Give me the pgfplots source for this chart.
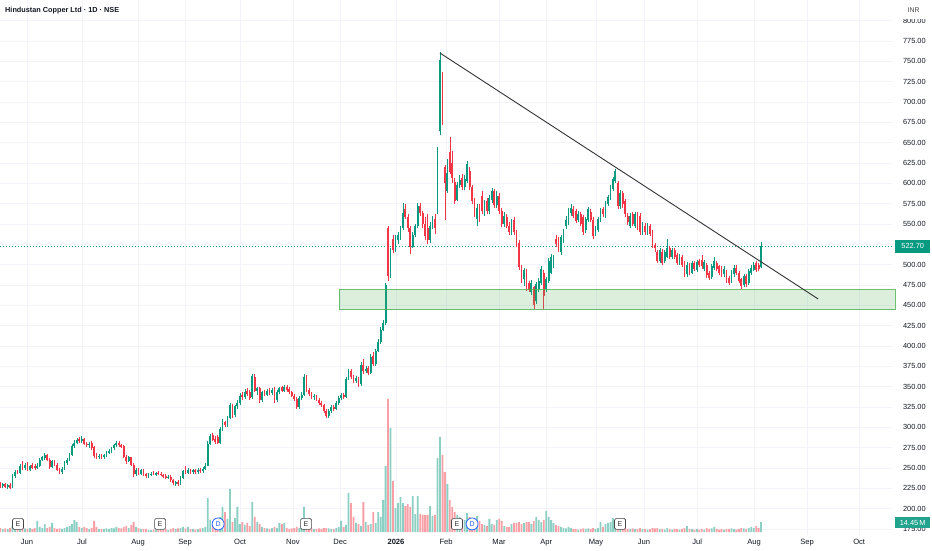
\documentclass[border=0pt]{standalone}
\usepackage{fontspec}
\setmainfont{Liberation Sans}
\usepackage{pgfplots}
\usepackage{pgfplotstable}
\pgfplotsset{compat=1.18}
\definecolor{upc}{RGB}{8,153,129}
\definecolor{dnc}{RGB}{242,54,69}
\definecolor{vup}{RGB}{140,208,196}
\definecolor{vdn}{RGB}{249,160,167}
\definecolor{gridc}{RGB}{242,244,250}
\definecolor{zonec}{RGB}{76,175,80}
\definecolor{txt}{RGB}{19,23,34}
\definecolor{dblue}{RGB}{41,98,255}
\tikzset{
  emark/.style={draw=black!72, fill=white, rounded corners=1.5pt, minimum size=11pt, inner sep=0pt, line width=0.6pt, font=\fontsize{7}{7}\selectfont, text=black!80},
  dmark/.style={circle, draw=dblue, fill=white, minimum size=12pt, inner sep=0pt, line width=0.8pt, font=\fontsize{7}{7}\selectfont, text=dblue},
}
\pgfplotstableread{
i o h l c v
0 230 233 226 228 5.8
1 228 231 225 230 4.4
2 230 232 226 227 5.1
3 227 230 224 229 4.4
4 229 231 224 226 5.8
5 226 242 225 240 8.7
6 240 247 238 245 7.3
7 245 248 242 244 4.4
8 244 255 243 252 8.7
9 254 258 248 250 5.8
10 250 256 248 254 5.1
11 254 257 246 248 4.4
12 248 254 246 252 5.8
13 254 256 249 250 4.4
14 253 255 248 250 5.8
15 250 256 249 253 16.0
16 252 262 251 260 7.3
17 260 265 258 263 5.8
18 262 268 260 266 11.6
19 266 267 258 260 5.8
20 260 262 249 251 7.3
21 251 260 250 258 13.1
22 258 260 252 254 5.8
23 254 256 246 248 4.4
24 248 250 243 245 5.1
25 245 251 243 249 4.4
26 249 258 248 256 5.8
27 256 262 254 260 7.3
28 260 268 258 266 8.7
29 266 279 265 277 11.6
30 277 284 275 281 17.4
31 281 287 279 285 14.5
32 286 288 281 283 7.3
33 283 289 281 286 5.8
34 286 287 278 280 7.3
35 280 282 276 278 5.8
36 278 282 275 280 4.4
37 281 283 272 275 5.8
38 276 277 262 265 16.0
39 265 268 261 264 7.3
40 264 267 261 265 4.4
41 265 267 261 263 4.4
42 263 267 261 266 4.4
43 266 271 264 269 5.1
44 269 273 267 271 4.4
45 271 276 269 274 5.8
46 274 280 272 278 5.1
47 278 283 276 281 7.3
48 281 283 276 278 5.8
49 278 280 274 276 5.1
50 277 278 262 264 7.3
51 264 266 255 258 8.7
52 258 265 257 263 5.8
53 263 264 252 254 10.2
54 254 256 239 242 14.5
55 242 250 240 248 7.3
56 248 250 241 243 5.8
57 243 249 241 247 4.4
58 247 249 240 242 4.4
59 242 244 238 240 4.4
60 240 244 238 242 2.9
61 242 245 240 243 2.9
62 243 246 241 242 3.6
63 242 245 240 244 2.9
64 244 246 241 243 2.9
65 243 245 240 241 3.6
66 241 243 238 240 2.9
67 240 242 236 238 4.4
68 238 241 236 239 2.9
69 239 241 233 235 4.4
70 235 237 229 231 5.8
71 231 234 228 233 4.4
72 233 235 228 230 5.1
73 230 240 229 238 5.8
74 238 248 236 246 7.3
75 248 252 242 244 5.1
76 244 250 242 247 7.3
77 247 249 243 245 4.4
78 245 249 243 247 4.4
79 247 249 243 245 3.6
80 245 250 243 248 4.4
81 248 250 244 246 5.1
82 246 251 244 249 5.8
83 249 256 247 253 7.3
84 253 283 252 280 49.3
85 280 292 278 289 17.4
86 290 293 283 285 10.2
87 286 289 280 282 8.7
88 288 290 279 281 13.1
89 281 300 280 298 21.8
90 298 310 296 306 36.3
91 306 308 300 303 29.0
92 303 314 301 312 18.9
93 312 330 310 327 62.4
94 327 329 312 315 14.5
95 315 328 313 326 20.3
96 326 333 323 330 36.3
97 330 342 328 339 11.6
98 340 343 334 337 14.5
99 337 347 335 344 10.2
100 345 348 338 341 13.1
101 343 346 334 336 8.7
102 337 366 335 363 43.5
103 362 365 343 345 21.8
104 345 350 340 348 14.5
105 348 350 330 333 11.6
106 333 345 331 343 7.3
107 343 346 338 340 5.8
108 340 347 338 345 5.1
109 345 348 340 342 4.4
110 342 348 340 346 5.8
111 347 349 330 333 7.3
112 333 346 331 344 5.8
113 344 350 341 348 13.1
114 349 351 343 345 11.6
115 345 352 343 350 13.1
116 350 352 344 346 5.8
117 347 349 341 343 4.4
118 343 345 337 339 5.1
119 339 341 332 335 5.8
120 335 337 322 325 7.3
121 325 338 323 336 5.8
122 336 343 334 340 10.2
123 340 366 338 362 36.3
124 362 364 343 346 11.6
125 346 348 339 341 5.8
126 341 343 335 337 5.1
127 337 341 334 339 4.4
128 339 340 332 334 4.4
129 334 336 328 330 5.1
130 330 332 325 327 4.4
131 327 329 318 320 5.8
132 320 322 311 314 5.8
133 314 322 312 320 5.1
134 320 327 318 325 4.4
135 325 327 320 322 4.4
136 322 332 321 330 5.8
137 330 338 328 336 7.3
138 336 342 334 340 16.0
139 340 342 335 337 7.3
140 337 362 336 360 10.2
141 360 372 358 369 56.6
142 369 372 360 362 42.0
143 362 364 354 357 21.8
144 357 363 355 361 13.1
145 361 362 350 353 11.6
146 353 380 351 377 8.7
147 377 384 366 369 43.5
148 369 376 367 372 14.5
149 373 375 364 367 10.2
150 367 390 365 387 11.6
151 388 392 375 378 29.0
152 378 396 376 394 13.1
153 394 408 392 405 29.0
154 405 423 403 420 21.8
155 420 432 418 428 46.4
156 428 478 426 475 95.7
157 545 548 480 486 192.9
158 486 520 484 515 150.8
159 532 536 514 518 74.0
160 518 536 516 533 34.8
161 530 540 526 536 42.0
162 534 548 530 545 50.8
163 545 576 543 563 42.0
164 568 575 556 559 37.7
165 559 562 540 545 40.6
166 545 548 513 522 36.3
167 522 540 520 537 52.2
168 537 550 534 547 26.1
169 547 576 545 572 52.2
170 572 576 560 563 26.1
171 563 566 545 550 24.7
172 550 558 530 535 24.7
173 545 562 526 530 24.7
174 530 552 527 548 37.7
175 548 560 544 556 23.2
176 556 562 538 545 24.7
177 565 645 562 643 107.3
178 664 762 660 752 137.8
179 725 737 672 686 111.7
180 620 622 555 600 87.0
181 590 630 588 613 69.6
182 638 657 612 614 46.4
183 625 640 600 606 36.3
184 602 606 575 578 29.0
185 580 602 578 598 24.7
186 598 610 594 604 21.8
187 606 612 592 596 18.9
188 596 610 592 605 17.4
189 603 628 600 624 27.6
190 615 620 592 595 21.8
191 595 598 575 578 17.4
192 578 582 558 562 14.5
193 556 575 548 570 23.2
194 570 574 552 556 16.0
195 585 590 562 566 11.6
196 563 580 560 576 10.2
197 578 582 562 566 8.7
198 566 586 562 582 18.9
199 580 594 576 590 11.6
200 590 593 570 573 10.2
201 573 590 570 585 17.4
202 585 588 562 566 18.9
203 566 570 546 550 16.0
204 550 565 546 560 8.7
205 558 562 545 548 7.3
206 548 552 536 540 7.3
207 540 556 537 551 11.6
208 555 558 536 540 13.1
209 540 542 522 526 13.1
210 527 530 494 497 14.5
211 497 500 478 482 11.6
212 482 496 474 493 13.1
213 493 495 468 471 14.5
214 477 480 466 469 14.5
215 466 481 463 478 11.6
216 472 474 445 450 16.0
217 455 479 452 476 21.8
218 470 483 466 480 17.4
219 478 498 475 495 14.5
220 490 494 446 462 17.4
221 470 485 466 482 30.5
222 480 508 478 505 21.8
223 490 513 488 510 17.4
224 500 512 496 508 13.1
225 532 536 522 525 10.2
226 530 534 516 520 8.7
227 516 537 512 534 7.3
228 530 544 527 540 5.8
229 548 560 544 555 5.1
230 552 570 549 568 7.3
231 563 574 560 570 5.8
232 568 572 557 560 4.4
233 566 569 551 554 4.4
234 555 566 552 562 3.6
235 562 565 547 550 4.4
236 558 561 537 540 5.1
237 542 559 539 556 4.4
238 555 571 552 568 5.1
239 565 568 552 555 4.4
240 555 558 532 535 5.8
241 538 548 535 545 4.4
242 543 559 540 556 5.8
243 556 570 553 568 14.5
244 568 571 559 562 7.3
245 560 578 557 575 11.6
246 575 586 572 583 13.1
247 583 598 580 595 14.5
248 593 608 590 605 20.3
249 603 618 600 615 17.4
250 600 603 568 572 11.6
251 572 592 569 588 10.2
252 588 591 570 574 5.8
253 578 581 558 562 5.8
254 560 563 549 552 4.4
255 548 563 545 560 4.4
256 562 565 547 550 5.1
257 548 565 545 562 4.4
258 562 565 543 546 4.4
259 560 563 537 540 5.8
260 540 553 537 550 4.4
261 548 551 537 540 4.4
262 540 551 537 548 3.6
263 548 550 535 538 4.4
264 540 542 521 524 5.8
265 524 527 516 520 5.1
266 515 518 502 505 5.8
267 505 521 502 518 4.4
268 516 519 499 502 4.4
269 505 518 502 515 3.6
270 510 531 508 520 5.8
271 520 523 507 510 4.4
272 510 521 507 518 3.6
273 518 520 507 510 4.4
274 512 514 499 502 4.4
275 503 513 500 510 3.6
276 510 512 497 500 4.4
277 502 504 485 488 5.8
278 488 503 485 500 8.7
279 500 502 487 490 4.4
280 490 505 488 502 4.4
281 502 505 492 495 3.6
282 494 506 491 503 4.4
283 505 507 497 500 3.6
284 506 512 495 498 4.4
285 495 506 492 503 3.6
286 500 502 484 487 5.8
287 490 492 481 484 4.4
288 485 501 482 498 5.1
289 496 510 494 505 7.3
290 502 505 492 495 4.4
291 498 500 487 490 3.6
292 496 498 485 488 4.4
293 488 498 485 495 3.6
294 490 493 477 480 4.4
295 484 486 475 478 4.4
296 480 493 477 490 5.1
297 488 499 485 496 4.4
298 496 499 487 490 3.6
299 490 492 477 480 4.4
300 482 484 470 474 5.8
301 475 489 472 486 5.1
302 486 488 473 476 4.4
303 478 495 475 492 5.8
304 490 499 487 496 7.3
305 494 503 492 500 5.8
306 502 504 491 494 8.7
307 500 502 492 495 5.8
308 497 528 496 522.7 14.45
}\prices
\begin{document}
\begin{tikzpicture}
\useasboundingbox (0,-15pt) rectangle (932pt,535pt);
% grid, ticks, labels
\begin{axis}[
  at={(0,0)}, anchor=south west, scale only axis,
  width=893pt, height=535pt,
  xmin=-0.1, xmax=361.4, ymin=167.6, ymax=825.4,
  axis line style={draw=none}, major tick length=0pt,
  xmajorgrids, ymajorgrids,
  major grid style={draw=gridc, line width=0.6pt},
  xtick={10.8,33.1,55.8,74.8,97.1,118.5,137.6,160.2,180.5,201.9,221,241.2,260.6,282.1,305.2,326.6,347.7},
  xticklabels={Jun,Jul,Aug,Sep,Oct,Nov,Dec,{\bfseries 2026},Feb,Mar,Apr,May,Jun,Jul,Aug,Sep,Oct},
  ytick={175,200,...,800},
  yticklabels={175.00,200.00,225.00,250.00,275.00,300.00,325.00,350.00,375.00,400.00,425.00,450.00,475.00,500.00,{},550.00,575.00,600.00,625.00,650.00,675.00,700.00,725.00,750.00,775.00,800.00},
  yticklabel pos=right,
  /pgf/number format/assume math mode=true,
  x tick label style={font=\fontsize{7.6}{9}\selectfont, text=txt, anchor=base, yshift=-9.5pt},
  y tick label style={font=\fontsize{7.4}{9}\selectfont, text=txt, anchor=west, xshift=6.5pt},
]
\addplot[draw=none, forget plot] coordinates {(0,500)};
\end{axis}
% volume
\begin{axis}[
  at={(0,0)}, anchor=south west, scale only axis,
  width=893pt, height=535pt,
  xmin=-0.1, xmax=361.4, ymin=-4.35, ymax=771.4,
  hide axis,
]
\addplot[ybar, bar width=1.8pt, bar shift=0pt, fill=vup, draw=none,
  restrict expr to domain={\thisrow{c}-\thisrow{o}}{0:10000}]
  table[x=i, y=v] {\prices};
\addplot[ybar, bar width=1.8pt, bar shift=0pt, fill=vdn, draw=none,
  restrict expr to domain={\thisrow{c}-\thisrow{o}}{-10000:-0.001}]
  table[x=i, y=v] {\prices};
\end{axis}
% candles and drawings
\begin{axis}[
  at={(0,0)}, anchor=south west, scale only axis,
  width=893pt, height=535pt,
  xmin=-0.1, xmax=361.4, ymin=167.6, ymax=825.4,
  hide axis, clip=false,
]
% price line
\addplot[upc, line width=0.6pt, dash pattern=on 1pt off 2pt] coordinates {(-0.1,522.7) (361.4,522.7)};
% wicks up
\addplot[draw=none, mark=none, restrict expr to domain={\thisrow{c}-\thisrow{o}}{0:10000},
  error bars/.cd, y dir=both, y explicit, error mark=none,
  error bar style={draw=upc, line width=0.6pt}]
  table[x=i, y expr={(\thisrow{h}+\thisrow{l})/2}, y error expr={(\thisrow{h}-\thisrow{l})/2}] {\prices};
% bodies up
\addplot[draw=none, mark=none, restrict expr to domain={\thisrow{c}-\thisrow{o}}{0:10000},
  error bars/.cd, y dir=both, y explicit, error mark=none,
  error bar style={draw=upc, line width=1.8pt}]
  table[x=i, y expr={(\thisrow{o}+\thisrow{c})/2}, y error expr={max(abs(\thisrow{c}-\thisrow{o})/2,0.6)}] {\prices};
% wicks down
\addplot[draw=none, mark=none, restrict expr to domain={\thisrow{c}-\thisrow{o}}{-10000:-0.001},
  error bars/.cd, y dir=both, y explicit, error mark=none,
  error bar style={draw=dnc, line width=0.6pt}]
  table[x=i, y expr={(\thisrow{h}+\thisrow{l})/2}, y error expr={(\thisrow{h}-\thisrow{l})/2}] {\prices};
% bodies down
\addplot[draw=none, mark=none, restrict expr to domain={\thisrow{c}-\thisrow{o}}{-10000:-0.001},
  error bars/.cd, y dir=both, y explicit, error mark=none,
  error bar style={draw=dnc, line width=1.8pt}]
  table[x=i, y expr={(\thisrow{o}+\thisrow{c})/2}, y error expr={max(abs(\thisrow{c}-\thisrow{o})/2,0.6)}] {\prices};
% support zone
\addplot[fill=zonec, fill opacity=0.2, draw=zonec, draw opacity=0.8, line width=0.8pt]
  coordinates {(137.1,444.5) (362.2,444.5) (362.2,469) (137.1,469)} -- cycle;
% trendline
\addplot[black!80, line width=0.9pt] coordinates {(178.0,760.2) (331.1,457.8)};
% event markers
\node[emark] at (axis cs:7.2,181.2) {E};
\node[emark] at (axis cs:64.7,181.2) {E};
\node[emark] at (axis cs:123.8,181.2) {E};
\node[emark] at (axis cs:184.9,181.2) {E};
\node[emark] at (axis cs:250.9,181.2) {E};
\node[dmark] at (axis cs:88.2,181.2) {D};
\node[dmark] at (axis cs:191.0,181.2) {D};
% tags
\node[fill=upc, text=white, font=\fontsize{7.4}{8}\selectfont, inner sep=0pt,
  minimum width=35pt, minimum height=13pt, anchor=west, xshift=2pt]
  at (axis cs:361.4,522.7) {522.70};
\node[fill=upc!90, text=white, font=\fontsize{7.4}{8}\selectfont, inner sep=0pt,
  minimum width=35pt, minimum height=11pt, anchor=west, xshift=2pt, yshift=12.5pt]
  at (rel axis cs:1,0) {14.45\,M};
\end{axis}
\node[fill=white, anchor=north west, inner sep=0pt, minimum width=37pt, minimum height=19pt,
  font=\fontsize{6.8}{8}\selectfont, text=black!75] at (895pt,535pt) {INR};
\node[anchor=west, inner sep=0pt, font=\fontsize{7.3}{9}\selectfont\bfseries, text=txt]
  at (5pt,524pt) {Hindustan Copper Ltd · 1D · NSE};
\end{tikzpicture}
\end{document}
